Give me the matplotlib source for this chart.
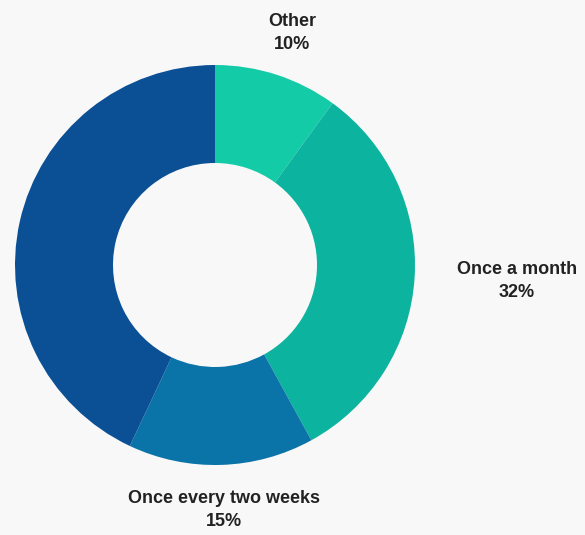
import matplotlib.pyplot as plt

## Data
labels = ["Other", "Once a month", "Once every two weeks", ""]
shares = [10, 32, 15, 43]
colors = ["#14CBA8", "#0CB39F", "#0A73A8", "#0B5095"]
pct_text = ["10%", "32%", "15%", None]

W, H = 585, 535
CX, CY, R = 215, 265, 200  # centre and outer radius in pixels

fig = plt.figure(figsize=(W / 100, H / 100), dpi=100)
fig.patch.set_facecolor("#F8F8F8")
ax = fig.add_axes([(CX - R) / W, (H - CY - R) / H, 2 * R / W, 2 * R / H])

ax.pie(shares, colors=colors, startangle=90, counterclock=False, radius=1,
       wedgeprops=dict(width=0.49, linewidth=0))
ax.set_xlim(-1, 1)
ax.set_ylim(-1, 1)
ax.axis('off')

# label centres (pixel coords of reference), turned into data coords
label_px = [(292, 33), (517, 281), (224, 510)]
for (px, py), name, pct in zip(label_px, labels, pct_text):
    x = (px - CX) / R
    y = (CY - py) / R
    ax.text(x, y, f"{name}\n{pct}", ha='center', va='center', fontsize=13,
            fontweight='bold', color="#222222", linespacing=1.4, clip_on=False,
            family="Liberation Sans")

fig.savefig("out.png", dpi=100, facecolor=fig.get_facecolor())
